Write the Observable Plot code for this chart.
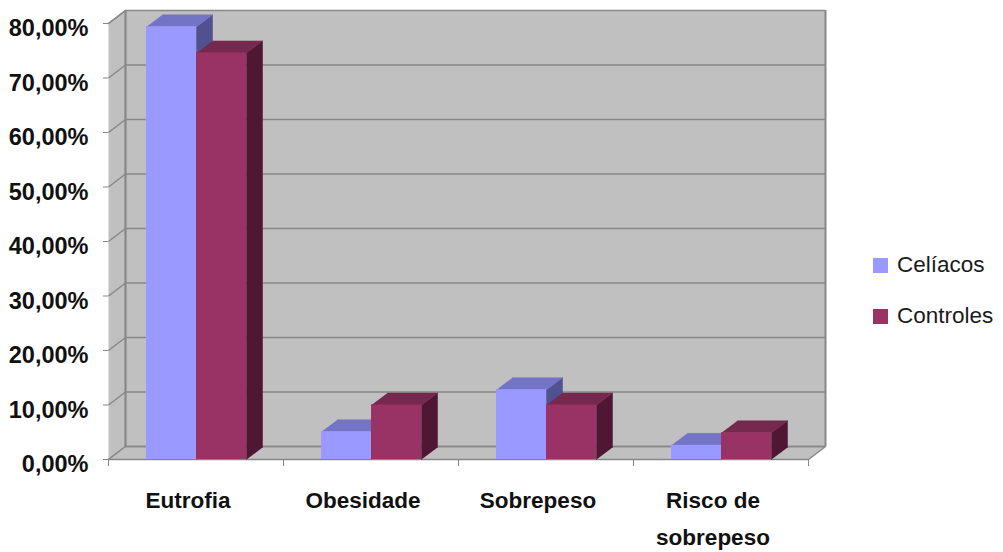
<!DOCTYPE html>
<html>
<head>
<meta charset="utf-8">
<script src="https://cdn.jsdelivr.net/npm/d3@7"></script>
<script src="https://cdn.jsdelivr.net/npm/@observablehq/plot@0.6"></script>
<style>
  html, body { margin: 0; padding: 0; background: #fff; }
  #wrap { position: relative; width: 1003px; height: 552px; font-family: "Liberation Sans", Arial, sans-serif; }
  #legend { position: absolute; left: 873px; top: 250px; }
  .item { position: absolute; left: 0; display: flex; align-items: center; height: 30px; font-size: 22.5px; color: #1a1a1a; white-space: nowrap; }
  .sw { width: 15px; height: 15px; margin-right: 9px; flex: none; }
</style>
</head>
<body>
<div id="wrap"><div id="legend"></div></div>
<script>
// Nutritional status, share of each group
const categories = ["Eutrofia", "Obesidade", "Sobrepeso", "Risco de\nsobrepeso"];
const series = ["Celíacos", "Controles"];
const celiacos = [0.794, 0.051, 0.128, 0.026];
const controles = [0.746, 0.100, 0.100, 0.049];
const yTicks = [0, 0.1, 0.2, 0.3, 0.4, 0.5, 0.6, 0.7, 0.8];

// face colours: front, top, side
const frontColors = ["#9999ff", "#993366"];
const topColors = ["#7474c6", "#76294f"];
const sideColors = ["#51518f", "#4f1733"];

// pseudo-3D depth expressed in scale units
const pxX = 4 / 700, pxY = 0.8 / 436;
const DX = 17 * pxX, DY = 13 * pxY;       // wall depth
const BDX = 16 * pxX, BDY = 12 * pxY;     // bar depth
const BAR_START = 38 / 175, BAR_W = 50 / 175;

const values = [celiacos, controles];
const bars = categories.flatMap((c, i) => series.map((s, j) => {
  const x1 = i + BAR_START + j * BAR_W;
  return {id: `${i}-${j}`, j, x1, x2: x1 + BAR_W, v: values[j][i]};
}));

const topFaces = bars.flatMap(b => [
  [b.x1, b.v], [b.x2, b.v], [b.x2 + BDX, b.v + BDY], [b.x1 + BDX, b.v + BDY]
].map(([x, y]) => ({id: b.id, x, y, fill: topColors[b.j]})));

const sideFaces = bars.flatMap(b => [
  [b.x2, 0], [b.x2, b.v], [b.x2 + BDX, b.v + BDY], [b.x2 + BDX, BDY]
].map(([x, y]) => ({id: b.id, x, y, fill: sideColors[b.j]})));

const floor = [[0, 0], [4, 0], [4 + DX, DY], [DX, DY]].map(([x, y]) => ({x, y}));
const leftWall = [[0, 0], [DX, DY], [DX, 0.8 + DY], [0, 0.8]].map(([x, y]) => ({x, y}));

const fmt = d => (d * 100).toFixed(2).replace(".", ",") + "%";
const wallFill = "#c0c0c0", gridColor = "#878787";

const chart = Plot.plot({
  width: 1003,
  height: 552,
  marginLeft: 108,
  marginRight: 195,
  marginTop: 23,
  marginBottom: 93,
  x: {domain: [0, 4]},
  y: {domain: [0, 0.8]},
  color: {type: "identity"},
  style: {fontFamily: "'Liberation Sans', Arial, sans-serif", background: "transparent", overflow: "visible"},
  marks: [
    // walls and floor
    Plot.rect([0], {x1: DX, x2: 4 + DX, y1: DY, y2: 0.8 + DY, fill: wallFill}),
    Plot.line(leftWall, {x: "x", y: "y", fill: wallFill, stroke: gridColor, strokeWidth: 1.5}),
    Plot.line(floor, {x: "x", y: "y", fill: wallFill, stroke: gridColor, strokeWidth: 1.5}),
    Plot.ruleY(yTicks, {y: d => d + DY, x1: DX, x2: 4 + DX, stroke: gridColor, strokeWidth: 1.5}),
    Plot.link(yTicks, {x1: 0, y1: d => d, x2: DX, y2: d => d + DY, stroke: gridColor, strokeWidth: 1.5}),
    Plot.ruleX([DX, 4 + DX], {y1: DY, y2: 0.8 + DY, stroke: gridColor, strokeWidth: 2}),
    // axes
    Plot.axisY({ticks: yTicks, tickSize: 5, tickFormat: () => "", stroke: gridColor}),
    Plot.axisX({ticks: [0, 1, 2, 3, 4], tickSize: 7, tickFormat: () => "", stroke: gridColor}),
    Plot.text(yTicks, {y: d => d, frameAnchor: "left", textAnchor: "end", dx: -20, dy: 5,
      text: fmt, fontSize: 23.5, fontWeight: "bold", fill: "#111"}),
    Plot.text(categories, {x: (d, i) => i + 0.5, y: 0, text: d => d, lineAnchor: "top",
      dx: -8, dy: 23, fontSize: 22.5, fontWeight: "bold", lineHeight: 1.62, fill: "#111"}),
    // bars: sides, tops, fronts
    Plot.line(sideFaces, {x: "x", y: "y", z: "id", fill: "fill", stroke: "fill", strokeWidth: 0.5}),
    Plot.line(topFaces, {x: "x", y: "y", z: "id", fill: "fill", stroke: "fill", strokeWidth: 0.5}),
    Plot.rect(bars, {x1: "x1", x2: "x2", y1: 0, y2: "v", fill: d => frontColors[d.j]})
  ]
});

const wrap = document.getElementById("wrap");
wrap.insertBefore(chart, wrap.firstChild);

const legend = document.getElementById("legend");
series.forEach((s, j) => {
  const item = document.createElement("div");
  item.className = "item";
  item.style.top = `${j * 51}px`;
  const sw = document.createElement("span");
  sw.className = "sw";
  sw.style.background = frontColors[j];
  item.appendChild(sw);
  item.appendChild(document.createTextNode(s));
  legend.appendChild(item);
});
</script>
</body>
</html>
